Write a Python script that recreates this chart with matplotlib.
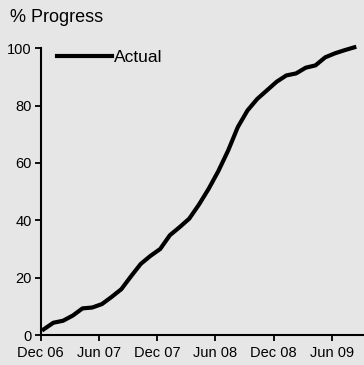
import numpy as np
import matplotlib
matplotlib.use("Agg")
import matplotlib.pyplot as plt

# months since Dec 06 for each observation
months = np.arange(33) + 0.3
progress = [2.0, 4.3, 5.0, 6.8, 9.3, 9.6, 10.8, 13.3, 16.0, 20.5,
            24.8, 27.6, 30.0, 34.8, 37.6, 40.6, 45.5, 51.0, 57.2, 64.3,
            72.5, 78.3, 82.3, 85.3, 88.3, 90.5, 91.2, 93.2, 94.0, 96.8,
            98.2, 99.3, 100.3]
tick_pos = [0, 6, 12, 18, 24, 30]
tick_labels = ["Dec 06", "Jun 07", "Dec 07", "Jun 08", "Dec 08", "Jun 09"]
y_ticks = [0, 20, 40, 60, 80, 100]

plt.rcParams["font.family"] = ["Liberation Sans", "DejaVu Sans"]
bg = "#e6e6e6"

fig = plt.figure(figsize=(3.64, 3.65), dpi=100, facecolor=bg)
ax = fig.add_axes([0.112, 0.082, 0.888, 0.786], facecolor=bg)

ax.plot(months, progress, color="black", lw=3.0, label="Actual",
        clip_on=False, solid_joinstyle="round")

ax.set_xlim(0, 33.3)
ax.set_ylim(0, 100)
ax.set_xticks(tick_pos)
ax.set_xticklabels(tick_labels)
ax.set_yticks(y_ticks)

for s in ["top", "right"]:
    ax.spines[s].set_visible(False)
for s in ["left", "bottom"]:
    ax.spines[s].set_linewidth(1.5)
ax.tick_params(axis="both", length=4, width=1.3, labelsize=10.5, pad=2.5, color="black")
ax.tick_params(axis="x", pad=4)

ax.legend(loc="center left", bbox_to_anchor=(0.049, 0.968), frameon=False,
          fontsize=12.5, handlelength=3.2, handletextpad=0.1,
          borderpad=0, borderaxespad=0)

fig.text(0.027, 0.953, "% Progress", fontsize=13, va="center", ha="left")

fig.savefig("out.png", dpi=100, facecolor=bg)
